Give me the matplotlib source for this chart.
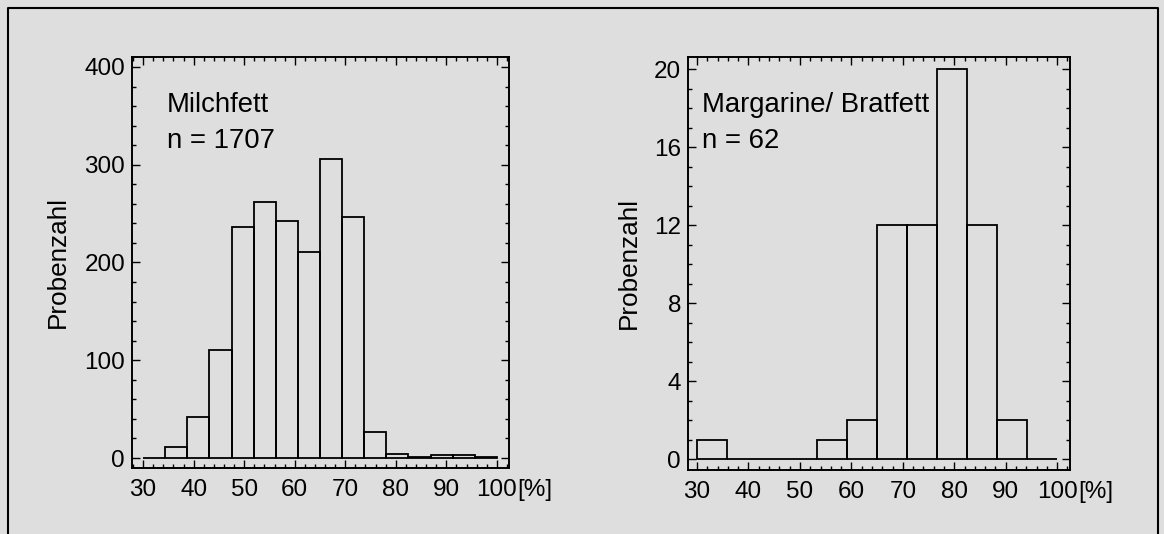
import matplotlib
matplotlib.use("Agg")
import matplotlib.pyplot as plt
from matplotlib.lines import Line2D
from matplotlib.ticker import MultipleLocator
import numpy as np

plt.rcParams["font.family"] = ["Liberation Sans", "DejaVu Sans"]

# Milchfett: 16 bins between 30 and 100 %
milch_edges = [30, 34.375, 38.75, 43.125, 47.5, 51.875, 56.25, 60.625, 65,
               69.375, 73.75, 78.125, 82.5, 86.875, 91.25, 95.625, 100]
milch_counts = [0, 11, 42, 111, 236, 262, 242, 211, 306, 247, 27, 4, 1, 3, 3, 1]

# Margarine / Bratfett: 12 bins between 30 and 100 %
marg_edges = [30, 35.83, 41.67, 47.5, 53.33, 59.17, 65, 70.83, 76.67,
              82.5, 88.33, 94.17, 100]
marg_counts = [1, 0, 0, 0, 1, 2, 12, 12, 20, 12, 2, 0]

x_ticks = [30, 40, 50, 60, 70, 80, 90, 100]
milch_yticks = [0, 100, 200, 300, 400]
marg_yticks = [0, 4, 8, 12, 16, 20]

BG = "#dedede"
TICK_FS = 17.5
LABEL_FS = 18.8
NOTE_FS = 19.8


def draw_panel(ax, edges, counts, yticks, ylim, xlim, yminor, note, n_text):
    edges = np.asarray(edges)
    ax.set_facecolor(BG)
    ax.bar(edges[:-1], counts, width=np.diff(edges), align="edge",
           fill=False, edgecolor="black", linewidth=1.3)
    ax.set_xlim(*xlim)
    ax.set_ylim(*ylim)
    ax.set_xticks(x_ticks)
    ax.set_yticks(yticks)
    ax.xaxis.set_minor_locator(MultipleLocator(2))
    ax.yaxis.set_minor_locator(MultipleLocator(yminor))
    ax.tick_params(which="both", direction="in", top=True, right=True,
                   width=1.0, labelsize=TICK_FS)
    ax.tick_params(which="major", length=6)
    ax.tick_params(which="minor", length=3)
    ax.tick_params(axis="x", pad=8)
    ax.tick_params(axis="y", pad=5)
    for s in ax.spines.values():
        s.set_linewidth(1.4)
    ax.set_ylabel("Probenzahl", fontsize=LABEL_FS, va="center")
    ax.text(note[0], note[1], note[2], transform=ax.transAxes,
            fontsize=NOTE_FS, va="baseline", ha="left")
    ax.text(note[0], n_text[0], n_text[1], transform=ax.transAxes,
            fontsize=NOTE_FS, va="baseline", ha="left")
    ax.annotate("[%]", xy=(100, 0), xycoords=("data", "axes fraction"),
                xytext=(15, -8), textcoords="offset points",
                ha="left", va="top", fontsize=TICK_FS)


fig = plt.figure(figsize=(11.64, 5.34), dpi=100, facecolor=BG)

ax1 = fig.add_axes([0.1134, 0.1236, 0.3239, 0.7697])
draw_panel(ax1, milch_edges, milch_counts, milch_yticks, (-10.2, 410.2),
           (27.8, 102.4), 20, (0.093, 0.866, "Milchfett"), (0.779, "n = 1707"))
ax1.yaxis.set_label_coords(-0.196, 0.5)

ax2 = fig.add_axes([0.5911, 0.1199, 0.3282, 0.7734])
draw_panel(ax2, marg_edges, marg_counts, marg_yticks, (-0.56, 20.62),
           (28.25, 102.5), 1, (0.037, 0.867, "Margarine/ Bratfett"), (0.780, "n = 62"))
ax2.yaxis.set_label_coords(-0.154, 0.5)

# outer frame (left, top, right)
x_l, x_r, y_t = 7.5 / 1164, 1158 / 1164, 1 - 7.5 / 534
fig.add_artist(Line2D([x_l, x_l, x_r, x_r], [0, y_t, y_t, 0],
                      transform=fig.transFigure, color="black", linewidth=1.5))

fig.savefig("out.png", dpi=100, facecolor=BG)
